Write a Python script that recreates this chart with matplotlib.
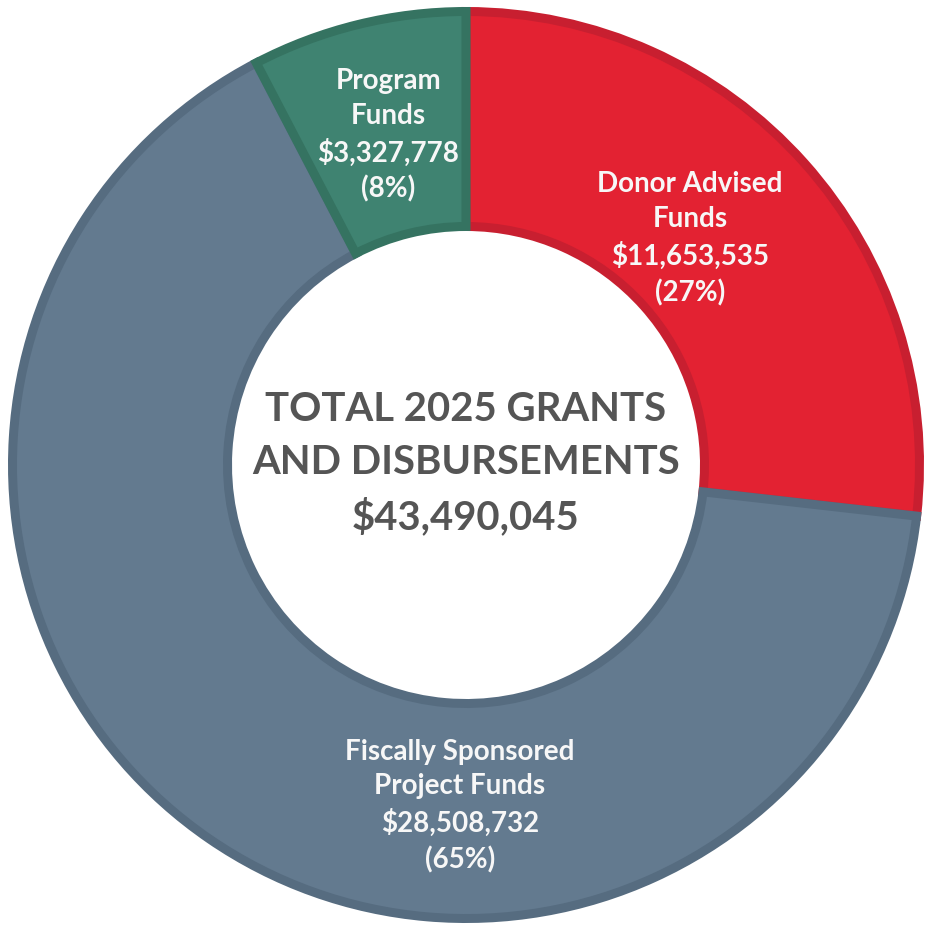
import matplotlib
matplotlib.use("Agg")
import matplotlib.pyplot as plt
import numpy as np

categories = ["Donor Advised\nFunds", "Fiscally Sponsored\nProject Funds", "Program\nFunds"]
values = [11653535, 28508732, 3327778]
percents = [27, 65, 8]
total = 43490045
colors = ["#E32232", "#637A8F", "#3F8371"]
edge_colors = ["#C81F30", "#566C80", "#357361"]

W, H = 932, 930
fig = plt.figure(figsize=(W / 100, H / 100), dpi=100)
ax = fig.add_axes([0, 0, 1, 1])

cx, cy = 466, 465
R = 458.0
lw_px = 9.0
outer = (R - lw_px / 2) / R
inner_r = (234 + lw_px / 2) / R
width = outer - inner_r

wedges, _ = ax.pie(values, colors=colors, startangle=90, counterclock=False,
                   radius=outer,
                   wedgeprops=dict(width=width, linewidth=lw_px * 72 / 100, joinstyle="miter"))
for w, ec in zip(wedges, edge_colors):
    w.set_edgecolor(ec)

ax.set_aspect("auto")
ax.set_xlim(-cx / R, (W - cx) / R)
ax.set_ylim(-(H - cy) / R, cy / R)
ax.axis("off")

font = ["Lato", "DejaVu Sans"]
label_pos = [(0.489, 0.494), (-0.013, -0.745), (-0.170, 0.72)]
for cat, v, p, (x, y) in zip(categories, values, percents, label_pos):
    ax.text(x, y, f"{cat}\n${v:,}\n({p}%)", ha="center", va="center",
            color="#F7F7F7", fontsize=20, fontweight="bold", family=font,
            linespacing=1.42)

ax.text(0, 0.003, f"TOTAL 2025 GRANTS\nAND DISBURSEMENTS\n${total:,}", ha="center", va="center",
        color="#555555", fontsize=28.8, fontweight="bold", family=font, linespacing=1.54)

fig.savefig("out.png", dpi=100, facecolor="white")
